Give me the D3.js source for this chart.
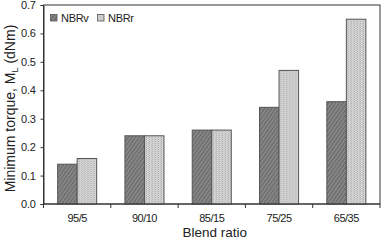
<!DOCTYPE html>
<html>
<head>
<meta charset="utf-8">
<script src="https://cdn.jsdelivr.net/npm/d3@7"></script>
<style>
  body { margin: 0; background: #fff; }
  text { font-family: "Liberation Sans", Arial, sans-serif; fill: #222; }
</style>
</head>
<body>
<div id="chart"></div>
<script>
const categories = ['95/5', '90/10', '85/15', '75/25', '65/35'];
const seriesNames = ['NBRv', 'NBRr'];
const nbrv = [0.14, 0.24, 0.26, 0.34, 0.36];
const nbrr = [0.16, 0.24, 0.26, 0.47, 0.65];
const yTicks = [0, 0.1, 0.2, 0.3, 0.4, 0.5, 0.6, 0.7];

const width = 382, height = 242;
const margins = { top: 5, right: 2, bottom: 38, left: 43.5 };
const innerW = width - margins.left - margins.right;
const innerH = height - margins.top - margins.bottom;

const svg = d3.select('#chart').append('svg')
    .attr('width', width)
    .attr('height', height);

// patterns for the two series
const defs = svg.append('defs');
const hatch = defs.append('pattern')
    .attr('id', 'pat-v')
    .attr('patternUnits', 'userSpaceOnUse')
    .attr('width', 3).attr('height', 3)
    .attr('patternTransform', 'rotate(35)');
hatch.append('rect').attr('width', 3).attr('height', 3).attr('fill', '#868686');
hatch.append('rect').attr('width', 1).attr('height', 3).attr('fill', '#676767');

const dots = defs.append('pattern')
    .attr('id', 'pat-r')
    .attr('patternUnits', 'userSpaceOnUse')
    .attr('width', 3).attr('height', 2);
dots.append('rect').attr('width', 3).attr('height', 2).attr('fill', '#d6d6d6');
dots.append('rect').attr('width', 1).attr('height', 1).attr('fill', '#a8a8a8');
dots.append('rect').attr('x', 2).attr('y', 1).attr('width', 1).attr('height', 1).attr('fill', '#bdbdbd');

const fills = ['url(#pat-v)', 'url(#pat-r)'];

const g = svg.append('g')
    .attr('transform', `translate(${margins.left},${margins.top})`);

const x = d3.scaleBand()
    .domain(categories)
    .range([0, innerW]);
const x1 = d3.scaleBand()
    .domain(seriesNames)
    .range([0, x.bandwidth() * 0.58])
    .padding(0);
const y = d3.scaleLinear()
    .domain([0, 0.7])
    .range([innerH, 0]);

// frame
g.append('rect')
    .attr('width', innerW).attr('height', innerH)
    .attr('fill', 'none').attr('stroke', '#333').attr('stroke-width', 1);

// bars
const data = categories.map((c, i) => ({ name: c, values: [nbrv[i], nbrr[i]] }));
const groupOffset = (x.bandwidth() - x1.range()[1]) / 2;
const groups = g.selectAll('g.grp')
    .data(data)
    .enter().append('g')
    .attr('class', 'grp')
    .attr('transform', d => `translate(${x(d.name) + groupOffset},0)`);
groups.selectAll('rect')
    .data(d => d.values.map((v, k) => ({ key: seriesNames[k], value: v, k })))
    .enter().append('rect')
    .attr('x', d => x1(d.key))
    .attr('y', d => y(d.value))
    .attr('width', x1.bandwidth())
    .attr('height', d => y(0) - y(d.value))
    .attr('fill', d => fills[d.k])
    .attr('stroke', '#555')
    .attr('stroke-width', 1);

// y axis
const yAxis = g.append('g')
    .call(d3.axisLeft(y).tickValues(yTicks).tickFormat(d3.format('.1f')).tickSize(3).tickPadding(5));
yAxis.select('.domain').attr('stroke', '#333');
yAxis.selectAll('.tick line').attr('stroke', '#333');
yAxis.selectAll('text').attr('font-size', 11).attr('fill', '#222')
    .attr('letter-spacing', -0.3)
    .attr('font-family', '"Liberation Sans", Arial, sans-serif');

// x axis: ticks between categories
const xAxis = g.append('g')
    .attr('transform', `translate(0,${innerH})`);
xAxis.append('line')
    .attr('x1', 0).attr('x2', innerW)
    .attr('stroke', '#333');
xAxis.selectAll('line.tk')
    .data(categories.map(c => x(c)).concat([innerW]))
    .enter().append('line')
    .attr('class', 'tk')
    .attr('x1', d => d).attr('x2', d => d)
    .attr('y1', 0).attr('y2', 4)
    .attr('stroke', '#333');
xAxis.selectAll('text')
    .data(categories)
    .enter().append('text')
    .attr('x', d => x(d) + x.bandwidth() / 2)
    .attr('y', 18)
    .attr('text-anchor', 'middle')
    .attr('font-size', 11)
    .attr('letter-spacing', -0.5)
    .text(d => d);

// axis titles
svg.append('text')
    .attr('x', margins.left + innerW / 2 + 3)
    .attr('y', 237)
    .attr('text-anchor', 'middle')
    .attr('font-size', 13.5)
    .text('Blend ratio');

const yt = svg.append('text')
    .attr('transform', `translate(15,${margins.top + innerH / 2 + 4}) rotate(-90)`)
    .attr('text-anchor', 'middle')
    .attr('font-size', 14);
yt.append('tspan').text('Minimum torque, M');
yt.append('tspan').attr('font-size', 9).attr('dy', 3).text('L');
yt.append('tspan').attr('dy', -3).text(' (dNm)');

// legend
const legend = g.append('g').attr('transform', 'translate(7,9.5)');
const items = legend.selectAll('g')
    .data(seriesNames)
    .enter().append('g')
    .attr('transform', (d, i) => `translate(${i * 47},0)`);
items.append('rect')
    .attr('width', 6.5).attr('height', 6.5)
    .attr('fill', (d, i) => fills[i])
    .attr('stroke', '#555').attr('stroke-width', 0.8);
items.append('text')
    .attr('x', 10.5).attr('y', 7.5)
    .attr('font-size', 11)
    .attr('letter-spacing', -0.3)
    .text(d => d);
</script>
</body>
</html>
